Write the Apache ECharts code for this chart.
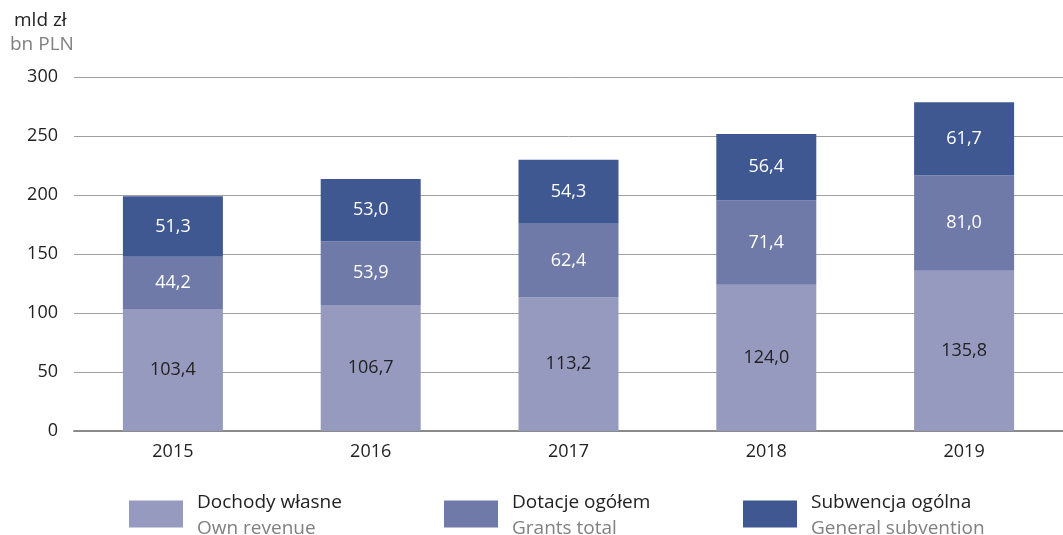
<!DOCTYPE html>
<html lang="pl" style="height: 100%">

<head>
  <meta charset="utf-8">
  <title>Dochody jednostek samorządu terytorialnego</title>
  <script src="https://cdn.jsdelivr.net/npm/echarts@6/dist/echarts.min.js"></script>
</head>

<body style="height: 100%; margin: 0; background: #fff">
  <div id="chart" style="width: 1063px; height: 535px"></div>
  <script type="text/javascript">
    const years = ['2015', '2016', '2017', '2018', '2019'];
    const ownRevenue = [103.4, 106.7, 113.2, 124.0, 135.8];
    const grantsTotal = [44.2, 53.9, 62.4, 71.4, 81.0];
    const generalSubvention = [51.3, 53.0, 54.3, 56.4, 61.7];
    const seriesNames = [
      ['Dochody własne', 'Own revenue'],
      ['Dotacje ogółem', 'Grants total'],
      ['Subwencja ogólna', 'General subvention']
    ];

    const font = '"Open Sans", "Noto Sans", sans-serif';
    const colors = ['#969abf', '#6f7aa8', '#3f5892'];
    const labelColors = ['#222', '#fff', '#fff'];

    const fmt = v => v.toFixed(1).replace('.', ',');

    const chart = echarts.init(document.getElementById('chart'));

    // one legend per series, each with its own position
    const legendLeft = [129, 444, 743];
    const legends = seriesNames.map((n, i) => ({
      data: [n[0]],
      left: legendLeft[i],
      top: 493,
      padding: 0,
      icon: 'rect',
      itemWidth: 54,
      itemHeight: 27,
      selectedMode: false,
      formatter: name => '{a|' + name + '}\n{b|' + n[1] + '}',
      textStyle: {
        padding: [0, 0, 0, 9],
        rich: {
          a: { fontFamily: font, fontSize: 19, color: '#222', lineHeight: 29 },
          b: { fontFamily: font, fontSize: 19, color: '#808080', lineHeight: 23 }
        }
      }
    }));

    const seriesData = [ownRevenue, grantsTotal, generalSubvention];

    const option = {
      animation: false,
      textStyle: { fontFamily: font },
      legend: legends,
      graphic: [
        {
          type: 'text', left: 14, top: 11,
          style: { text: 'mld zł', font: '19px ' + font, fill: '#222' }
        },
        {
          type: 'text', left: 10, top: 35,
          style: { text: 'bn PLN', font: '19px ' + font, fill: '#808080' }
        }
      ],
      grid: { left: 74, right: -2, top: 77, bottom: 104 },
      xAxis: {
        type: 'category',
        data: years,
        axisTick: { show: false },
        axisLine: { lineStyle: { color: '#8a8a8a', width: 2 } },
        axisLabel: { color: '#222', fontSize: 18, margin: 12, fontFamily: font }
      },
      yAxis: {
        type: 'value',
        min: 0,
        max: 300,
        interval: 50,
        axisLabel: { color: '#222', fontSize: 18, margin: 16, fontFamily: font },
        splitLine: { lineStyle: { color: '#a0a0a0', width: 1 } }
      },
      series: seriesNames.map((n, i) => ({
        name: n[0],
        type: 'bar',
        stack: 'total',
        barWidth: 100,
        data: seriesData[i],
        itemStyle: { color: colors[i] },
        label: {
          show: true,
          position: 'inside',
          color: labelColors[i],
          fontSize: 18,
          fontFamily: font,
          formatter: p => fmt(p.value)
        }
      }))
    };
    chart.setOption(option);
  </script>
</body>

</html>
